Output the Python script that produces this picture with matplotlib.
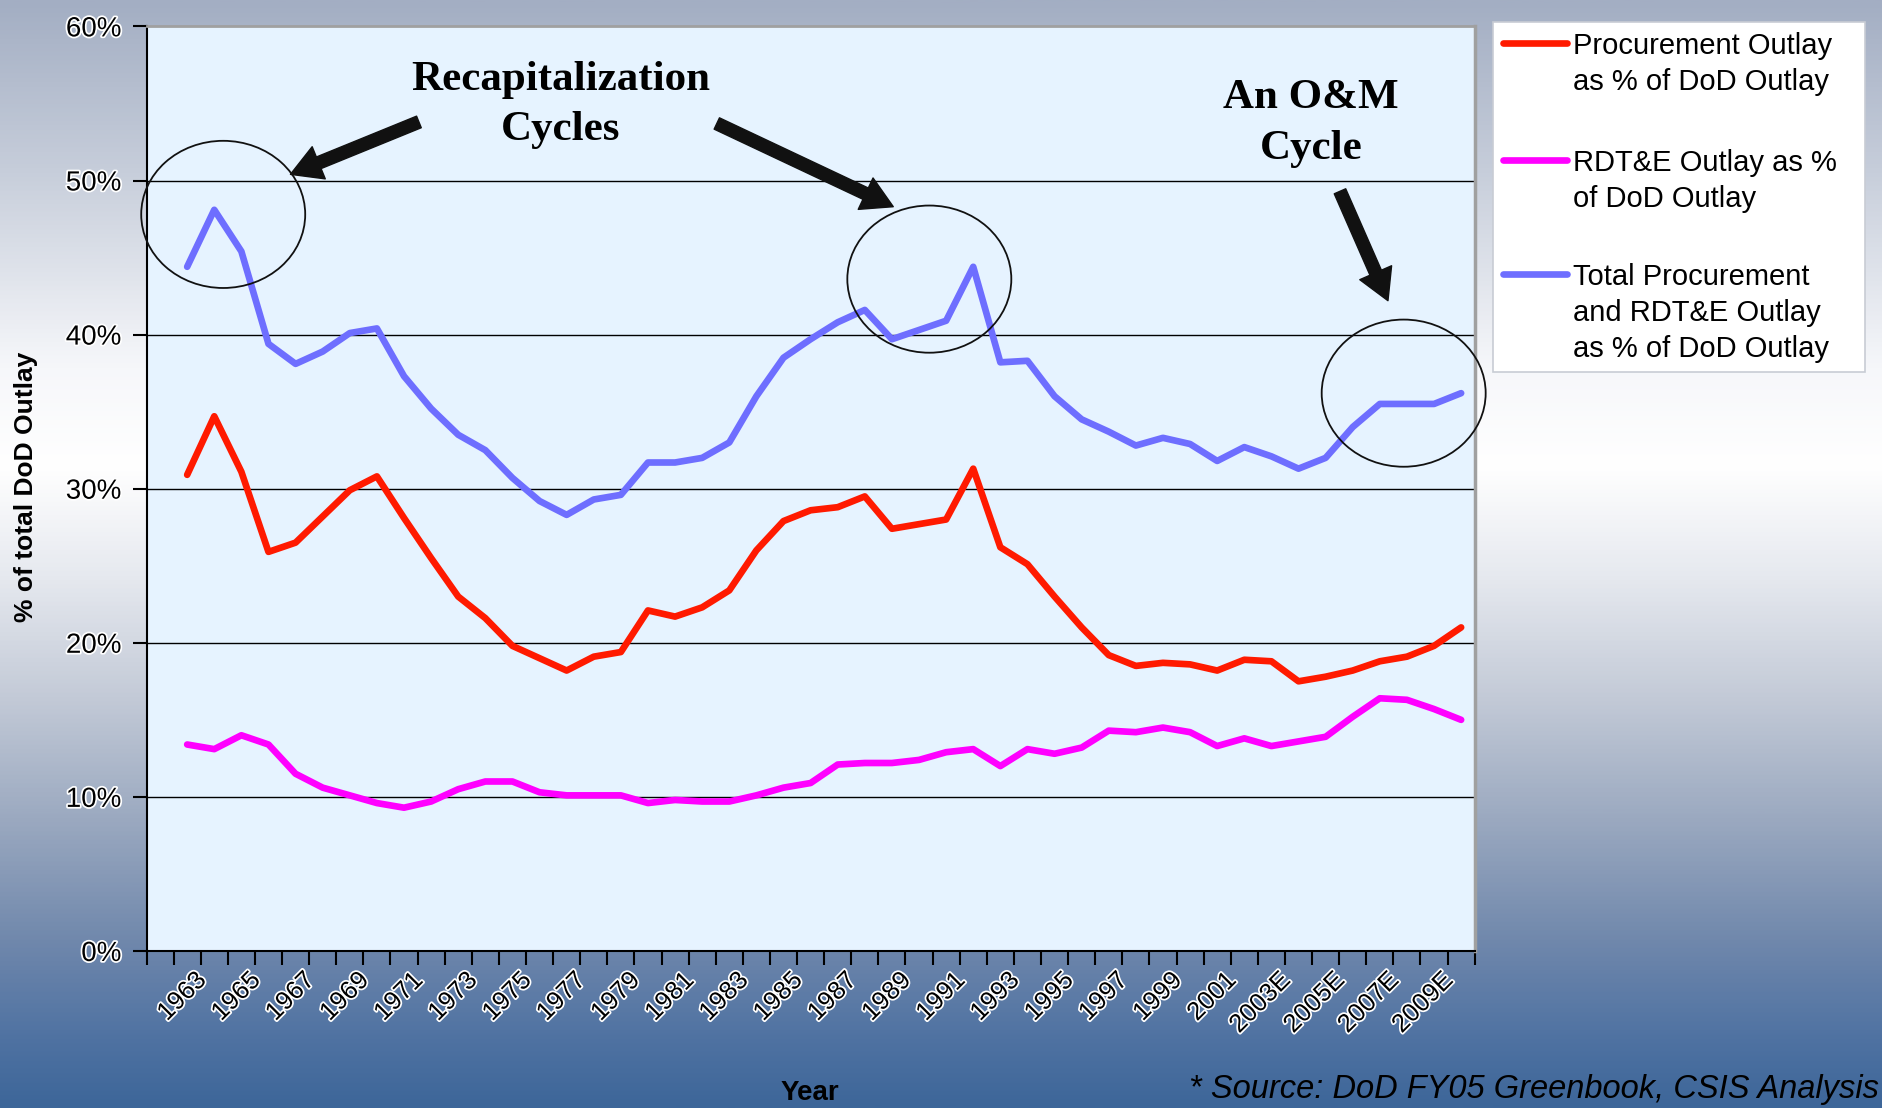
import matplotlib.pyplot as plt
import numpy as np
from matplotlib.patches import Ellipse, Rectangle
from matplotlib.lines import Line2D
from matplotlib.colors import LinearSegmentedColormap
from matplotlib.transforms import ScaledTranslation
import matplotlib.patheffects as pe

plt.rcParams['font.family'] = ['Liberation Sans', 'DejaVu Sans']

years = list(range(1963, 2011))
year_labels = [str(y) + ('E' if y >= 2003 else '') for y in years]

procurement = [30.9, 34.7, 31.1, 25.9, 26.5, 28.2, 29.9, 30.8, 28.1, 25.5,
               23.0, 21.6, 19.8, 19.0, 18.2, 19.1, 19.4, 22.1, 21.7, 22.3,
               23.4, 26.0, 27.9, 28.6, 28.8, 29.5, 27.4, 27.7, 28.0, 31.3,
               26.2, 25.1, 23.0, 21.0, 19.2, 18.5, 18.7, 18.6, 18.2, 18.9,
               18.8, 17.5, 17.8, 18.2, 18.8, 19.1, 19.8, 21.0]
rdte = [13.4, 13.1, 14.0, 13.4, 11.5, 10.6, 10.1, 9.6, 9.3, 9.7,
        10.5, 11.0, 11.0, 10.3, 10.1, 10.1, 10.1, 9.6, 9.8, 9.7,
        9.7, 10.1, 10.6, 10.9, 12.1, 12.2, 12.2, 12.4, 12.9, 13.1,
        12.0, 13.1, 12.8, 13.2, 14.3, 14.2, 14.5, 14.2, 13.3, 13.8,
        13.3, 13.6, 13.9, 15.2, 16.4, 16.3, 15.7, 15.0]
total = [44.4, 48.1, 45.4, 39.4, 38.1, 38.9, 40.1, 40.4, 37.3, 35.2,
         33.5, 32.5, 30.7, 29.2, 28.3, 29.3, 29.6, 31.7, 31.7, 32.0,
         33.0, 36.0, 38.5, 39.7, 40.8, 41.6, 39.7, 40.3, 40.9, 44.4,
         38.2, 38.3, 36.0, 34.5, 33.7, 32.8, 33.3, 32.9, 31.8, 32.7,
         32.1, 31.3, 32.0, 34.0, 35.5, 35.5, 35.5, 36.2]

series_names = ['Procurement Outlay\nas % of DoD Outlay',
                'RDT&E Outlay as %\nof DoD Outlay',
                'Total Procurement\nand RDT&E Outlay\nas % of DoD Outlay']
series_colors = ['#FF1A00', '#FF00FF', '#6E6EFF']

W, H = 1883, 1108
fig = plt.figure(figsize=(W / 100, H / 100), dpi=100)

# background gradient
stops = [(0.00, '#A3AEC3'), (0.15, '#C6CDDA'), (0.33, '#F6F7FA'), (0.42, '#FFFFFF'),
         (0.52, '#E6E9EF'), (0.63, '#C3CAD7'), (0.74, '#9BA9C0'), (0.85, '#7088AC'),
         (0.93, '#5274A3'), (1.00, '#3D6699')]
cmap = LinearSegmentedColormap.from_list('bg', stops)
bg = fig.add_axes([0, 0, 1, 1], zorder=-10)
bg.imshow(np.linspace(0, 1, 512).reshape(-1, 1), aspect='auto', cmap=cmap,
          extent=[0, 1, 0, 1], origin='upper')
bg.axis('off')

left, right, top, bottom = 146.5, 1474.7, 26.4, 951
ax = fig.add_axes([left / W, 1 - bottom / H, (right - left) / W, (bottom - top) / H])
ax.set_facecolor('#E6F3FF')

x = np.arange(1, len(years) + 1)
for vals, c in zip([procurement, rdte, total], series_colors):
    ax.plot(x, vals, color=c, lw=4.8, solid_joinstyle='round',
            solid_capstyle='round', zorder=3)

ax.set_xlim(-0.5, len(years) + 0.5)
ax.set_ylim(0, 60)
for v in range(10, 60, 10):
    ax.axhline(v, color='black', lw=1, zorder=1)

halo = [pe.withStroke(linewidth=2.5, foreground='white')]
ax.set_yticks(range(0, 61, 10))
ax.set_yticklabels([f'{v}%' for v in range(0, 61, 10)], fontsize=20)
ax.set_xticks(np.arange(-0.5, len(years) + 1, 1))
ax.set_xticklabels([])
ax.set_xticks(x[::2], minor=True)
ax.set_xticklabels(year_labels[::2], minor=True, rotation=45, ha='right',
                   va='top', rotation_mode='anchor', fontsize=18.5)
ax.tick_params(axis='x', which='minor', length=0, pad=12)
ax.tick_params(axis='both', which='major', length=10, width=1.5, direction='out')
ax.tick_params(axis='y', pad=8)
off = ScaledTranslation(5 / 72, 0, fig.dpi_scale_trans)
for lbl in ax.get_xticklabels(minor=True):
    lbl.set_transform(lbl.get_transform() + off)
    lbl.set_path_effects(halo)
for lbl in ax.get_yticklabels():
    lbl.set_path_effects(halo)

ax.spines['left'].set_linewidth(1.5)
ax.spines['bottom'].set_linewidth(1.5)
ax.spines['top'].set_color('#A0A0A0')
ax.spines['top'].set_linewidth(2)
ax.spines['right'].set_color('#A0A0A0')
ax.spines['right'].set_linewidth(2.5)

# annotations
for cx, cy in [(2.33, 47.8), (28.38, 43.6), (45.88, 36.2)]:
    ax.add_patch(Ellipse((cx, cy), 6.05, 9.55, fill=False, ec='#111111',
                         lw=1.3, clip_on=False, zorder=5))

arrow_kw = dict(arrowstyle='simple,head_length=1.1,head_width=1.25,tail_width=0.45',
                fc='#111111', ec='#111111', mutation_scale=20, shrinkA=0, shrinkB=0)
for tail, head in [((9.55, 53.8), (4.81, 50.4)),
                   ((20.54, 53.7), (27.05, 48.3)),
                   ((43.53, 49.3), (45.3, 42.2))]:
    ax.annotate('', xy=head, xytext=tail, arrowprops=arrow_kw,
                annotation_clip=False, zorder=5)

serif = ['Liberation Serif', 'DejaVu Serif']
ax.text(14.78, 54.9, 'Recapitalization\nCycles', family=serif, fontsize=31,
        fontweight='bold', ha='center', va='center', linespacing=1.42, zorder=5)
ax.text(42.47, 53.7, 'An O&M\nCycle', family=serif, fontsize=31,
        fontweight='bold', ha='center', va='center', linespacing=1.42, zorder=5)

# axis titles and source
fig.text(26 / W, 1 - 487 / H, '% of total DoD Outlay', rotation=90, fontsize=19,
         fontweight='bold', ha='center', va='center')
fig.text(810 / W, 1 - 1080 / H, 'Year', fontsize=20, fontweight='bold',
         ha='center', va='top')
fig.text(1189 / W, 3 / H, '* Source: DoD FY05 Greenbook, CSIS Analysis',
         fontsize=23.5, fontstyle='italic', ha='left', va='bottom')

# legend box
fig.patches.append(Rectangle((1493 / W, 1 - 372 / H), (1865 - 1493) / W, (372 - 22) / H,
                             transform=fig.transFigure, fc='white', ec='#C8CCD4', lw=1.2))
first_lines = [43, 160, 274]
for name, c, y0 in zip(series_names, series_colors, first_lines):
    fig.add_artist(Line2D([1503 / W, 1567 / W], [1 - y0 / H, 1 - y0 / H],
                          transform=fig.transFigure, color=c, lw=4.8,
                          solid_capstyle='round'))
    for k, line in enumerate(name.split('\n')):
        fig.text(1573 / W, 1 - (y0 + 36 * k) / H, line, fontsize=21,
                 ha='left', va='center_baseline')

fig.savefig('out.png', dpi=100)
